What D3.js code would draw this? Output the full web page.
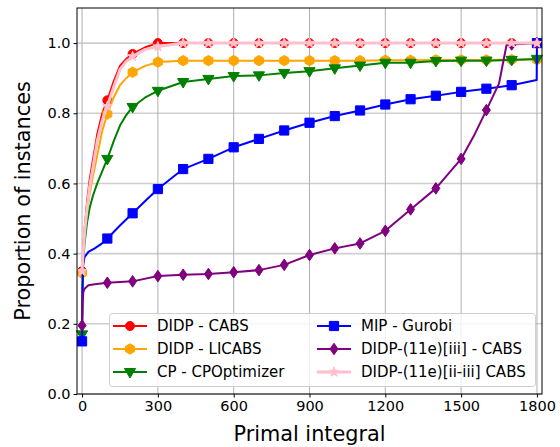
<!DOCTYPE html>
<html><head><meta charset="utf-8">
<script src="https://cdn.jsdelivr.net/npm/d3@7"></script>
<style>body{margin:0;background:#fff}svg{display:block;font-family:"DejaVu Sans",sans-serif}</style>
</head><body>
<svg id="c" width="560" height="447"></svg>
<script>
// ---- data ----
const xTicks = [0, 300, 600, 900, 1200, 1500, 1800];
const yTicks = [0.0, 0.2, 0.4, 0.6, 0.8, 1.0];
const longX = [400, 500, 600, 700, 800, 900, 1000, 1100, 1200, 1300, 1400, 1500, 1600, 1700, 1800];
const earlyX = [0, 5, 10, 20, 30, 43, 60, 80, 100, 125, 150, 175, 200, 250, 300];

const cabsX = earlyX.concat(longX);
const cabsY = [0.35, 0.42, 0.47, 0.55, 0.61, 0.667, 0.74, 0.80, 0.837, 0.89, 0.935, 0.955, 0.969, 0.988, 1.0,
  1, 1, 1, 1, 1, 1, 1, 1, 1, 1, 1, 1, 1, 1, 1];

const licabsX = earlyX.concat(longX);
const licabsY = [0.345, 0.40, 0.45, 0.52, 0.57, 0.62, 0.68, 0.75, 0.798, 0.845, 0.88, 0.90, 0.917, 0.935, 0.946,
  0.95, 0.95, 0.95, 0.95, 0.95, 0.95, 0.95, 0.95, 0.951, 0.951, 0.952, 0.952, 0.952, 0.953, 0.953];

const cpX = earlyX.concat(longX);
const cpY = [0.17, 0.38, 0.43, 0.49, 0.53, 0.565, 0.60, 0.635, 0.67, 0.72, 0.765, 0.795, 0.818, 0.845, 0.864,
  0.889, 0.898, 0.906, 0.908, 0.915, 0.920, 0.928, 0.936, 0.944, 0.944, 0.949, 0.950, 0.950, 0.952, 0.955];

const mipX = [0, 1, 3, 10, 25, 50, 75, 100, 150, 200, 250, 300, 400, 500, 600, 700, 800, 900, 1000, 1100, 1200, 1300, 1400, 1500, 1600, 1700, 1799, 1800];
const mipY = [0.15, 0.30, 0.365, 0.39, 0.405, 0.415, 0.427, 0.443, 0.48, 0.515, 0.55, 0.584, 0.641, 0.670, 0.703, 0.727, 0.751, 0.773, 0.792, 0.808, 0.825, 0.840, 0.850, 0.861, 0.870, 0.880, 0.895, 1.0];

const iiiX = [0, 2, 5, 10, 25, 50, 100, 200, 300, 400, 500, 600, 700, 800, 900, 1000, 1100, 1200, 1300, 1400, 1500, 1550, 1600, 1650, 1680, 1700, 1800];
const iiiY = [0.195, 0.26, 0.29, 0.30, 0.31, 0.313, 0.317, 0.321, 0.336, 0.340, 0.342, 0.347, 0.353, 0.368, 0.396, 0.415, 0.429, 0.465, 0.526, 0.586, 0.670, 0.735, 0.809, 0.885, 0.996, 0.996, 1.0];

const iiiiiiX = earlyX.concat(longX);
const iiiiiiY = [0.35, 0.41, 0.46, 0.53, 0.59, 0.645, 0.72, 0.78, 0.82, 0.875, 0.925, 0.948, 0.962, 0.982, 0.99,
  1, 1, 1, 1, 1, 1, 1, 1, 1, 1, 1, 1, 1, 1, 1];

const seriesNames = ["DIDP - CABS", "DIDP - LICABS", "CP - CPOptimizer", "MIP - Gurobi", "DIDP-(11e)[iii] - CABS", "DIDP-(11e)[ii-iii] CABS"];
const seriesColors = ["#ff0000", "#ffa500", "#008000", "#0000ff", "#800080", "#ffc0cb"];

// ---- layout ----
const svg = d3.select("#c");
const L = 77, R = 542, T = 8, B = 394;
const x = d3.scaleLinear().domain([-20, 1820]).range([L, R]);
const y = d3.scaleLinear().domain([0, 1.1]).range([B, T]);

const series = [
  {name: seriesNames[0], color: seriesColors[0], xs: cabsX, ys: cabsY, marker: "circle", lw: 2},
  {name: seriesNames[1], color: seriesColors[1], xs: licabsX, ys: licabsY, marker: "hexagon", lw: 2},
  {name: seriesNames[2], color: seriesColors[2], xs: cpX, ys: cpY, marker: "tridown", lw: 2},
  {name: seriesNames[3], color: seriesColors[3], xs: mipX, ys: mipY, marker: "square", lw: 2},
  {name: seriesNames[4], color: seriesColors[4], xs: iiiX, ys: iiiY, marker: "thindiamond", lw: 2},
  {name: seriesNames[5], color: seriesColors[5], xs: iiiiiiX, ys: iiiiiiY, marker: "star", lw: 3}
];

// grid
const g = svg.append("g");
g.selectAll(".hg").data(yTicks).enter().append("line")
  .attr("x1", L).attr("x2", R).attr("y1", d => y(d)).attr("y2", d => y(d))
  .attr("stroke", "#cfcfcf").attr("stroke-width", 1.6);
g.selectAll(".vg").data(xTicks).enter().append("line")
  .attr("y1", T).attr("y2", B).attr("x1", d => x(d)).attr("x2", d => x(d))
  .attr("stroke", "#b0b0b0").attr("stroke-width", 1);

function markerPath(type, cx, cy) {
  const p = d3.path();
  if (type === "circle") { p.arc(cx, cy, 4.5, 0, 2 * Math.PI); }
  else if (type === "hexagon") {
    for (let i = 0; i < 6; i++) { const a = Math.PI / 2 + i * Math.PI / 3; const px = cx + 5.2 * Math.cos(a), py = cy - 5.2 * Math.sin(a); i ? p.lineTo(px, py) : p.moveTo(px, py); }
    p.closePath();
  } else if (type === "tridown") {
    p.moveTo(cx, cy + 6); p.lineTo(cx - 5.6, cy - 3.5); p.lineTo(cx + 5.6, cy - 3.5); p.closePath();
  } else if (type === "square") {
    p.rect(cx - 4.6, cy - 4.6, 9.2, 9.2);
  } else if (type === "thindiamond") {
    p.moveTo(cx, cy - 5.8); p.lineTo(cx + 4, cy); p.lineTo(cx, cy + 5.8); p.lineTo(cx - 4, cy); p.closePath();
  } else if (type === "star") {
    for (let i = 0; i < 10; i++) { const r = i % 2 ? 2.2 : 5.2; const a = Math.PI / 2 + i * Math.PI / 5; const px = cx + r * Math.cos(a), py = cy - r * Math.sin(a); i ? p.lineTo(px, py) : p.moveTo(px, py); }
    p.closePath();
  }
  return p.toString();
}

const line = d3.line().x(d => x(d[0])).y(d => y(d[1]));
series.forEach(s => {
  const pts = s.xs.map((v, i) => [v, s.ys[i]]);
  const sg = svg.append("g");
  sg.append("path").attr("d", line(pts)).attr("fill", "none").attr("stroke", s.color)
    .attr("stroke-width", s.lw).attr("stroke-linejoin", "round");
  sg.selectAll("path.m").data(pts.filter(p => p[0] % 100 === 0)).enter().append("path")
    .attr("class", "m").attr("d", p => markerPath(s.marker, x(p[0]), y(p[1])))
    .attr("fill", s.color).attr("stroke", s.color).attr("stroke-width", 1);
});

// frame
svg.append("rect").attr("x", L).attr("y", T).attr("width", R - L).attr("height", B - T)
  .attr("fill", "none").attr("stroke", "#000").attr("stroke-width", 1);

// axes
const xAxis = svg.append("g").attr("transform", `translate(0,${B})`)
  .call(d3.axisBottom(x).tickValues(xTicks).tickFormat(d3.format("d")).tickSize(3.5).tickPadding(3));
const yAxis = svg.append("g").attr("transform", `translate(${L},0)`)
  .call(d3.axisLeft(y).tickValues(yTicks).tickFormat(d3.format(".1f")).tickSize(3.5).tickPadding(3));
[xAxis, yAxis].forEach(a => {
  a.select(".domain").remove();
  a.selectAll("text").attr("font-family", "DejaVu Sans").attr("font-size", 14.5).attr("fill", "#000");
  a.selectAll("line").attr("stroke", "#000");
});

svg.append("text").attr("x", (L + R) / 2).attr("y", 441).attr("text-anchor", "middle")
  .attr("font-size", 20.8).text("Primal integral");
svg.append("text").attr("transform", `translate(30,${(T + B) / 2}) rotate(-90)`).attr("text-anchor", "middle")
  .attr("font-size", 20.8).text("Proportion of instances");

// legend
const lg = svg.append("g");
lg.append("rect").attr("x", 109.5).attr("y", 313.5).attr("width", 426).attr("height", 73).attr("rx", 3)
  .attr("fill", "#fff").attr("fill-opacity", 0.8).attr("stroke", "#d0d0d0");
const colX = [113, 317], rowY = [326, 349, 372];
series.forEach((s, i) => {
  const cx = colX[Math.floor(i / 3)], cy = rowY[i % 3];
  lg.append("line").attr("x1", cx).attr("x2", cx + 34).attr("y1", cy).attr("y2", cy)
    .attr("stroke", s.color).attr("stroke-width", s.lw);
  lg.append("path").attr("d", markerPath(s.marker, cx + 17, cy)).attr("fill", s.color).attr("stroke", s.color);
  lg.append("text").attr("x", cx + 44).attr("y", cy + 5.3).attr("font-size", 15).text(s.name);
});
</script>
</body></html>
